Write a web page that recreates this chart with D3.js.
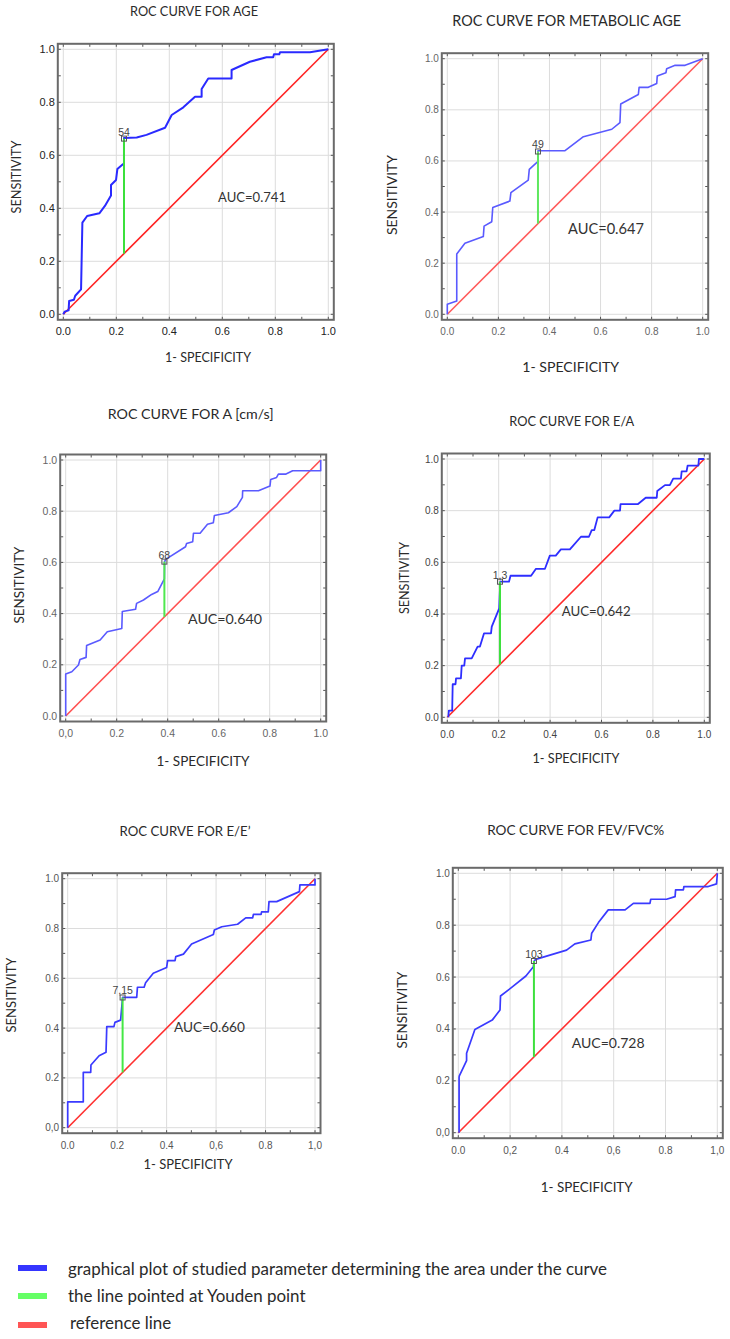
<!DOCTYPE html>
<html><head><meta charset="utf-8">
<script src="https://cdn.jsdelivr.net/npm/d3@7"></script>
<style>body{margin:0;background:#fff}</style>
</head><body>
<svg id="c" width="730" height="1339" xmlns="http://www.w3.org/2000/svg"></svg>
<script>
// ---------------- DATA ----------------
const titles = ["ROC CURVE FOR AGE", "ROC CURVE FOR METABOLIC AGE", "ROC CURVE FOR A [cm/s]",
                "ROC CURVE FOR E/A", "ROC CURVE FOR E/E\u2019", "ROC CURVE FOR FEV/FVC%"];
const aucLabels = ["AUC=0.741", "AUC=0.647", "AUC=0.640", "AUC=0.642", "AUC=0.660", "AUC=0.728"];
const cutoffLabels = ["54", "49", "68", "1,3", "7,15", "103"];
const youdenX = [0.229, 0.355, 0.387, 0.205, 0.222, 0.292];
const youdenY = [0.663, 0.637, 0.603, 0.525, 0.523, 0.662];
const xAxisLabel = "1- SPECIFICITY";
const yAxisLabel = "SENSITIVITY";
const tickValues = [0, 0.2, 0.4, 0.6, 0.8, 1.0];
const xTickLabels = [
  ["0.0","0.2","0.4","0.6","0.8","1.0"],
  ["0.0","0.2","0.4","0.6","0.8","1.0"],
  ["0,0","0.2","0.4","0.6","0.8","1.0"],
  ["0.0","0.2","0.4","0.6","0.8","1.0"],
  ["0.0","0.2","0.4","0,6","0.8","1,0"],
  ["0.0","0,2","0.4","0,6","0.8","1,0"]
];
const yTickLabels = [
  ["0.0","0.2","0.4","0.6","0.8","1.0"],
  ["0.0","0.2","0.4","0.6","0.8","1.0"],
  ["0.0","0.2","0.4","0.6","0.8","1.0"],
  ["0.0","0.2","0.4","0.6","0.8","1.0"],
  ["0,0","0.2","0.4","0.6","0.8","1.0"],
  ["0,0","0.2","0.4","0.6","0.8","1.0"]
];

const ageFpr = [0,0.005,0.02,0.022,0.04,0.045,0.067,0.072,0.09,0.136,0.157,0.18,0.18,0.199,0.204,0.226,0.229,0.229,0.277,0.314,0.384,0.409,0.453,0.497,0.522,0.522,0.547,0.635,0.635,0.704,0.767,0.792,0.795,0.815,0.818,0.931,1];
const ageTpr = [0,0.01,0.015,0.05,0.055,0.07,0.094,0.346,0.371,0.381,0.409,0.448,0.488,0.507,0.548,0.567,0.567,0.665,0.667,0.677,0.704,0.752,0.781,0.821,0.821,0.85,0.89,0.89,0.922,0.953,0.97,0.97,0.981,0.981,0.989,0.989,1];

const metFpr = [0,0,0.037,0.037,0.069,0.141,0.144,0.174,0.178,0.245,0.249,0.317,0.321,0.352,0.355,0.355,0.461,0.533,0.644,0.676,0.679,0.748,0.751,0.787,0.82,0.822,0.856,0.859,0.892,0.931,1];
const metTpr = [0,0.039,0.052,0.236,0.278,0.304,0.345,0.362,0.418,0.443,0.476,0.525,0.567,0.595,0.595,0.64,0.64,0.695,0.724,0.75,0.823,0.86,0.888,0.888,0.903,0.932,0.945,0.961,0.974,0.974,1];

const aFpr = [0,0,0.024,0.05,0.056,0.08,0.082,0.135,0.163,0.22,0.222,0.274,0.278,0.305,0.337,0.361,0.387,0.388,0.392,0.47,0.474,0.498,0.501,0.527,0.556,0.579,0.583,0.638,0.671,0.693,0.694,0.756,0.801,0.804,0.827,0.834,0.864,0.89,1,1];
const aTpr = [0,0.164,0.173,0.199,0.221,0.229,0.275,0.297,0.329,0.342,0.408,0.417,0.44,0.453,0.475,0.486,0.536,0.603,0.612,0.661,0.674,0.681,0.714,0.714,0.749,0.755,0.783,0.794,0.818,0.854,0.88,0.88,0.898,0.924,0.932,0.945,0.945,0.958,0.958,1];

const eaFpr = [0.004,0.006,0.019,0.021,0.032,0.034,0.053,0.056,0.066,0.069,0.095,0.118,0.127,0.143,0.17,0.173,0.202,0.206,0.211,0.24,0.246,0.326,0.345,0.38,0.399,0.422,0.442,0.477,0.52,0.551,0.562,0.572,0.585,0.63,0.65,0.672,0.674,0.741,0.772,0.815,0.817,0.847,0.866,0.879,0.909,0.912,0.931,0.935,0.977,0.979,1];
const eaTpr = [0,0.026,0.026,0.128,0.128,0.151,0.151,0.2,0.2,0.228,0.228,0.274,0.274,0.325,0.325,0.351,0.422,0.525,0.525,0.525,0.548,0.548,0.575,0.575,0.626,0.626,0.65,0.65,0.699,0.699,0.725,0.725,0.774,0.774,0.8,0.8,0.825,0.825,0.85,0.85,0.876,0.899,0.899,0.924,0.924,0.952,0.952,0.974,0.974,1,1];

const eeFpr = [0,0,0.063,0.063,0.093,0.094,0.127,0.155,0.158,0.187,0.191,0.214,0.222,0.228,0.279,0.282,0.309,0.315,0.346,0.4,0.404,0.434,0.437,0.468,0.501,0.589,0.593,0.623,0.687,0.72,0.748,0.751,0.782,0.784,0.811,0.814,0.845,0.937,0.939,1,1];
const eeTpr = [0,0.104,0.104,0.222,0.222,0.252,0.289,0.303,0.406,0.406,0.423,0.432,0.523,0.523,0.523,0.564,0.564,0.582,0.62,0.643,0.671,0.671,0.687,0.697,0.738,0.776,0.794,0.807,0.817,0.843,0.843,0.857,0.857,0.867,0.867,0.908,0.908,0.948,0.975,0.975,1];

const fvFpr = [0.003,0.003,0.004,0.032,0.032,0.064,0.131,0.161,0.163,0.206,0.261,0.29,0.293,0.299,0.418,0.45,0.512,0.515,0.541,0.579,0.644,0.676,0.74,0.743,0.804,0.837,0.839,0.869,0.871,0.965,0.997,1,1];
const fvTpr = [0,0.213,0.219,0.278,0.306,0.398,0.434,0.473,0.527,0.56,0.604,0.64,0.662,0.668,0.704,0.728,0.743,0.769,0.81,0.859,0.859,0.884,0.884,0.9,0.9,0.91,0.936,0.936,0.949,0.949,0.959,0.997,1];

const curvesFpr = [ageFpr, metFpr, aFpr, eaFpr, eeFpr, fvFpr];
const curvesTpr = [ageTpr, metTpr, aTpr, eaTpr, eeTpr, fvTpr];

const legendLabels = ["graphical plot of studied parameter determining the area under the curve",
                      "the line pointed at Youden point", "reference line"];

// ---------------- LAYOUT / STYLE ----------------
const layout = [
  {x0:63.3, x1:328.3, yT:49.3, yB:314.3, tX:194, tY:16, tW:128, sX:16.7, sY:177, sW:73, lX:208, lY:362, lW:86, aX:218, aY:202, aW:68, tf:11, tc:"#222", blue:"#2a2aff", red:"#ff2222", green:"#3be03b", bw:2},
  {x0:447.3, x1:702.7, yT:58.7, yB:314.3, tX:566.7, tY:26, tW:229, sX:392, sY:195, sW:80, lX:570.7, lY:372, lW:97, aX:568, aY:234, aW:76, tf:10, tc:"#666", blue:"#5a5aff", red:"#ff5a5a", green:"#5ee85e", bw:1.6},
  {x0:65.7, x1:320.7, yT:460, yB:716, tX:190.7, tY:419, tW:166, sX:19.5, sY:585, sW:77, lX:203, lY:766, lW:93, aX:188, aY:624, aW:74, tf:10.5, tc:"#666", blue:"#5a5aff", red:"#ff5050", green:"#4ee84e", bw:1.6},
  {x0:447.3, x1:704.3, yT:459, yB:717.3, tX:571.7, tY:426, tW:125, sX:404.7, sY:578, sW:72, lX:576, lY:763, lW:87, aX:561.7, aY:615.5, aW:69, tf:10, tc:"#444", blue:"#2e2eff", red:"#ff2a2a", green:"#3ee03e", bw:1.8},
  {x0:67.7, x1:315, yT:878.7, yB:1127.7, tX:185, tY:836, tW:131, sX:11.7, sY:995, sW:75, lX:188, lY:1169, lW:89, aX:174, aY:1032, aW:71, tf:10, tc:"#555", blue:"#3a3aff", red:"#ff3030", green:"#44e844", bw:1.7},
  {x0:458.3, x1:717.3, yT:873.3, yB:1132.7, tX:575.7, tY:835, tW:177, sX:402.5, sY:1010, sW:77, lX:586.7, lY:1192, lW:92, aX:571.7, aY:1048, aW:73, tf:10, tc:"#555", blue:"#3a3aff", red:"#ff3030", green:"#3ee03e", bw:1.7}
];
const labelFont = "Lato, 'Open Sans', sans-serif";
const tickFont = "'Liberation Sans', Arial, sans-serif";

const svg = d3.select("#c");

function fit(sel, w, base) {
  sel.attr("font-size", base);
  const m = sel.node().getComputedTextLength();
  if (m > 0) sel.attr("font-size", (base * w / m).toFixed(2));
  return sel;
}

layout.forEach((L, i) => {
  const x = d3.scaleLinear().domain([0, 1]).range([L.x0, L.x1]);
  const y = d3.scaleLinear().domain([0, 1]).range([L.yB, L.yT]);
  const g = svg.append("g");
  const pad = 5.5;
  const fx0 = x(0) - pad, fx1 = x(1) + pad, fy0 = y(1) - pad, fy1 = y(0) + pad;

  // grid
  g.append("g").selectAll("line.gx").data(tickValues).join("line")
    .attr("x1", d => x(d)).attr("x2", d => x(d)).attr("y1", fy0).attr("y2", fy1)
    .attr("stroke", "#dcdcdc").attr("stroke-width", 1);
  g.append("g").selectAll("line.gy").data(tickValues).join("line")
    .attr("y1", d => y(d)).attr("y2", d => y(d)).attr("x1", fx0).attr("x2", fx1)
    .attr("stroke", "#dcdcdc").attr("stroke-width", 1);

  // minor/major ticks on frame, inward
  const tks = d3.range(0, 11).map(k => k / 10);
  const tg = g.append("g").attr("stroke", "#555").attr("stroke-width", 1);
  tks.forEach(t => {
    const len = 3;
    tg.append("line").attr("x1", x(t)).attr("x2", x(t)).attr("y1", fy1).attr("y2", fy1 - len);
    tg.append("line").attr("x1", x(t)).attr("x2", x(t)).attr("y1", fy0).attr("y2", fy0 + len);
    tg.append("line").attr("y1", y(t)).attr("y2", y(t)).attr("x1", fx0).attr("x2", fx0 + len);
    tg.append("line").attr("y1", y(t)).attr("y2", y(t)).attr("x1", fx1).attr("x2", fx1 - len);
  });

  // frame
  g.append("rect").attr("x", fx0).attr("y", fy0).attr("width", fx1 - fx0).attr("height", fy1 - fy0)
    .attr("fill", "none").attr("stroke", "#6a6a6a").attr("stroke-width", 2);

  // tick labels
  g.append("g").selectAll("text").data(tickValues).join("text")
    .attr("x", d => x(d)).attr("y", fy1 + 15.5)
    .attr("text-anchor", "middle").attr("font-family", tickFont).attr("font-size", L.tf)
    .attr("fill", L.tc).text((d, k) => xTickLabels[i][k]);
  g.append("g").selectAll("text").data(tickValues).join("text")
    .attr("x", fx0 - 3).attr("y", d => y(d)).attr("dy", "0.35em")
    .attr("text-anchor", "end").attr("font-family", tickFont).attr("font-size", L.tf)
    .attr("fill", L.tc).text((d, k) => yTickLabels[i][k]);

  // reference line
  g.append("line").attr("x1", x(0)).attr("y1", y(0)).attr("x2", x(1)).attr("y2", y(1))
    .attr("stroke", L.red).attr("stroke-width", 1.6);

  // ROC curve
  const pts = curvesFpr[i].map((v, k) => [v, curvesTpr[i][k]]);
  g.append("path").datum(pts)
    .attr("d", d3.line().x(d => x(d[0])).y(d => y(d[1])))
    .attr("fill", "none").attr("stroke", L.blue).attr("stroke-width", L.bw)
    .attr("stroke-linejoin", "round");

  // Youden line
  g.append("line").attr("x1", x(youdenX[i])).attr("x2", x(youdenX[i]))
    .attr("y1", y(youdenX[i])).attr("y2", y(youdenY[i]))
    .attr("stroke", L.green).attr("stroke-width", 2);

  // marker + label
  g.append("rect").attr("x", x(youdenX[i]) - 2.5).attr("y", y(youdenY[i]) - 2.5)
    .attr("width", 5).attr("height", 5).attr("fill", "none").attr("stroke", "#555").attr("stroke-width", 1);
  g.append("text").attr("x", x(youdenX[i])).attr("y", y(youdenY[i]) - 3)
    .attr("text-anchor", "middle").attr("font-family", tickFont).attr("font-size", 10.5)
    .attr("fill", "#444").text(cutoffLabels[i]);

  // AUC
  fit(g.append("text").attr("x", L.aX).attr("y", L.aY).attr("font-family", labelFont)
    .attr("fill", "#333").text(aucLabels[i]), L.aW, 15);

  // title
  fit(g.append("text").attr("x", L.tX).attr("y", L.tY).attr("text-anchor", "middle")
    .attr("font-family", labelFont).attr("fill", "#2a2a2a").text(titles[i]), L.tW, 13);

  // axis labels
  fit(g.append("text").attr("x", L.lX).attr("y", L.lY).attr("text-anchor", "middle")
    .attr("font-family", labelFont).attr("fill", "#2a2a2a").text(xAxisLabel), L.lW, 14);
  fit(g.append("text").attr("transform", `translate(${L.sX},${L.sY}) rotate(-90)`)
    .attr("text-anchor", "middle").attr("dy", "0.35em")
    .attr("font-family", labelFont).attr("fill", "#2a2a2a").text(yAxisLabel), L.sW, 14);
});

// legend
const legendColors = ["#3535ff", "#66ff66", "#ff5555"];
const legendY = [1268, 1296, 1325];
const legendBase = [1275, 1302, 1329];
const legendX = [68, 68, 70];
const lg = svg.append("g");
let legendSize = 14;
legendLabels.forEach((t, k) => {
  lg.append("rect").attr("x", 18).attr("y", legendY[k] - 3).attr("width", 29).attr("height", 6)
    .attr("fill", legendColors[k]);
  const txt = lg.append("text").attr("x", legendX[k]).attr("y", legendBase[k])
    .attr("font-family", labelFont).attr("fill", "#2a2a2a").text(t);
  if (k === 0) { fit(txt, 539, 14); legendSize = +txt.attr("font-size"); }
  else txt.attr("font-size", legendSize);
});
</script>
</body></html>
